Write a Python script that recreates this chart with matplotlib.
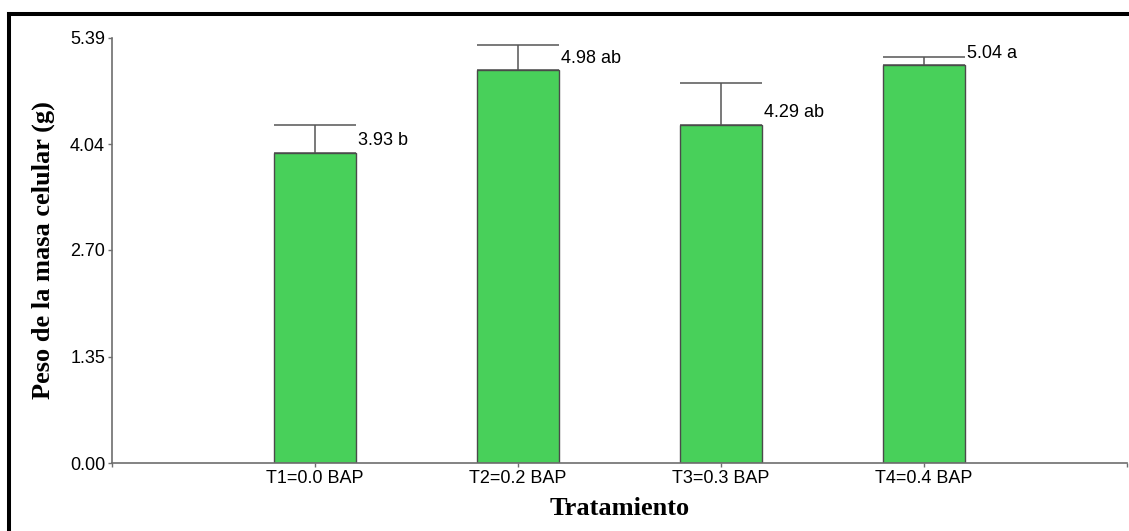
import numpy as np
import matplotlib
matplotlib.use('Agg')
import matplotlib.pyplot as plt
from matplotlib.lines import Line2D

# datos del ensayo
tratamientos = ['T1=0.0 BAP', 'T2=0.2 BAP', 'T3=0.3 BAP', 'T4=0.4 BAP']
peso = [3.93, 4.98, 4.29, 5.04]
error = [0.36, 0.32, 0.53, 0.10]
letras = ['b', 'ab', 'ab', 'a']
marcas_y = ['0.00', '1.35', '2.70', '4.04', '5.39']

plt.rcParams['font.family'] = ['Liberation Sans', 'DejaVu Sans']

fig = plt.figure(figsize=(11.29, 5.31), dpi=100)
ax = fig.add_axes([0.0992, 0.128, 0.8990, 0.801])

x = np.arange(1, len(peso) + 1)
ax.bar(x, peso, width=0.405, color='#48D05A', edgecolor='#4a4a4a', linewidth=1.0, zorder=2)
# solo la barra de error superior
ax.errorbar(x, peso, yerr=[np.zeros(len(error)), error], fmt='none', ecolor='#555555',
            elinewidth=1.1, capsize=29.5, capthick=1.1, zorder=1)

for xi, v, l in zip(x, peso, letras):
    ax.annotate('%.2f %s' % (v, l), (xi + 0.2025, v), xytext=(2, 12), textcoords='offset pixels',
                ha='left', va='center', fontsize=13)

ax.set_xlim(0, 5)
ax.set_ylim(0, 5.39)
ax.set_yticks([float(m) for m in marcas_y])
ax.set_yticklabels(marcas_y)
ax.set_xticks(x)
ax.set_xticklabels(tratamientos)
ax.set_xticks([0, 5], minor=True)
ax.tick_params(axis='both', which='both', direction='out', length=3, width=1, color='#6e6e6e',
               labelsize=13, pad=2)

for s in ['top', 'right']:
    ax.spines[s].set_visible(False)
for s in ['left', 'bottom']:
    ax.spines[s].set_color('#6e6e6e')
    ax.spines[s].set_linewidth(1.2)

ax.set_xlabel('Tratamiento', family='Liberation Serif', fontweight='bold', fontsize=19, labelpad=7)
ax.set_ylabel('Peso de la masa celular (g)', family='Liberation Serif', fontweight='bold',
              fontsize=19, labelpad=11)

# marco negro del recuadro
fig.add_artist(Line2D([0.0077, 0.0077], [0.0, 0.9736], color='black', linewidth=2.9,
                      transform=fig.transFigure, solid_capstyle='projecting'))
fig.add_artist(Line2D([0.0077, 1.0], [0.9736, 0.9736], color='black', linewidth=2.9,
                      transform=fig.transFigure, solid_capstyle='projecting'))

fig.savefig('out.png', dpi=100)
